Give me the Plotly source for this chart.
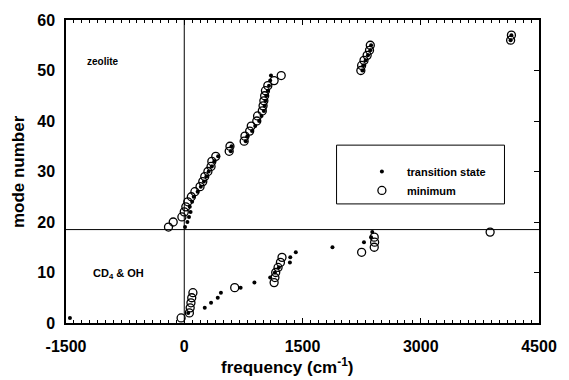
import plotly.graph_objects as go

modes = list(range(1, 58))

# frequencies (cm^-1) of the minimum structure, modes 1..57
min_freq = [-40, 65, 75, 85, 95, 110, 640, 1140, 1150, 1160, 1190, 1220, 1240,
            2250, 2410, 2415, 2410, 3880,
            -200, -140, -30, 0, 20, 45, 90, 135, 200, 235, 260, 300, 340, 350, 400,
            570, 580, 760, 770, 830, 850, 920, 930, 990, 1000, 1010, 1020, 1030,
            1060, 1140, 1230, 2240, 2250, 2280, 2320, 2350, 2360, 4140, 4150]

# frequencies (cm^-1) of the transition state, modes 1..57
ts_freq = [-1450, 50, 260, 340, 425, 465, 715, 890, 1090, 1150, 1200, 1340, 1345,
           1415, 1880, 2280, 2370, 2385,
           10, 40, 60, 80, 70, 100, 120, 170, 210, 250, 280, 310, 350, 380, 430,
           590, 600, 780, 800, 860, 900, 950, 980, 1010, 1020, 1030, 1040, 1060,
           1075, 1090, 1100, 2260, 2270, 2300, 2330, 2360, 2370, 4140, 4150]

x_ticks = [-1500, 0, 1500, 3000, 4500]
x_tick_labels = ["-1500", "0", "1500", "3000", "4500"]
y_ticks = [0, 10, 20, 30, 40, 50, 60]
split_mode = 18.5

FONT = "Liberation Sans"

fig = go.Figure()
fig.add_trace(go.Scatter(
    x=ts_freq, y=modes, mode="markers", name="transition state",
    marker=dict(symbol="circle", size=4, color="black"),
))
fig.add_trace(go.Scatter(
    x=min_freq, y=modes, mode="markers", name="minimum",
    marker=dict(symbol="circle-open", size=8, color="black", line=dict(width=1.3)),
))
# dummy trace for right / top axis ticks
fig.add_trace(go.Scatter(x=[None], y=[None], xaxis="x2", yaxis="y2",
                         showlegend=False, hoverinfo="skip"))

fig.update_layout(
    width=569, height=380,
    margin=dict(l=66, r=24, t=20, b=57),
    plot_bgcolor="white", paper_bgcolor="white",
    font=dict(family=FONT, color="black"),
    showlegend=True,
    legend=dict(x=0.615, y=0.548, xanchor="left", yanchor="top",
                bgcolor="rgba(0,0,0,0)", borderwidth=0,
                font=dict(size=11, family=FONT, weight="bold"),
                itemwidth=40, tracegroupgap=0),
    xaxis=dict(range=[-1500, 4500], tickvals=x_ticks, ticktext=x_tick_labels,
               ticks="inside", ticklen=5, tickwidth=1, tickcolor="black",
               minor=dict(dtick=100, ticks="inside", ticklen=3, tickcolor="black"),
               showline=True, linecolor="black", linewidth=1.5, mirror=True,
               showgrid=False, zeroline=False,
               tickfont=dict(size=16, family=FONT, weight="bold"),
               ticklabelstandoff=8),
    xaxis2=dict(range=[-1500, 4500], overlaying="x", side="top", tickvals=x_ticks,
                ticks="inside", ticklen=5, tickcolor="black",
                minor=dict(dtick=100, ticks="inside", ticklen=3, tickcolor="black"),
                showticklabels=False, showgrid=False, zeroline=False, showline=False),
    yaxis=dict(range=[0, 60], tickvals=y_ticks, ticks="",
               showline=True, linecolor="black", linewidth=1.5, mirror=True,
               showgrid=False, zeroline=False,
               tickfont=dict(size=16, family=FONT, weight="bold"),
               ticklabelstandoff=6),
    yaxis2=dict(range=[0, 60], overlaying="y", side="right", tickvals=y_ticks,
                ticks="inside", ticklen=5, tickcolor="black",
                showticklabels=False, showgrid=False, zeroline=False, showline=False),
)

# reference lines: zero frequency and split between CD4&OH and zeolite modes
fig.add_shape(type="line", xref="x", yref="y", x0=0, x1=0, y0=0, y1=60,
              line=dict(color="black", width=1))
fig.add_shape(type="line", xref="x", yref="y", x0=-1500, x1=4500,
              y0=split_mode, y1=split_mode, line=dict(color="black", width=1))

# legend box
fig.add_shape(type="rect", xref="paper", yref="paper", x0=0.572, x1=0.927,
              y0=0.393, y1=0.587, line=dict(color="black", width=1), fillcolor="rgba(0,0,0,0)")

fig.add_annotation(x=-1260, y=51.7, xref="x", yref="y", text="zeolite", showarrow=False,
                   xanchor="left", font=dict(size=10, family=FONT, weight="bold"))
fig.add_annotation(x=-1180, y=9.8, xref="x", yref="y", text="CD<sub>4</sub> & OH",
                   showarrow=False, xanchor="left",
                   font=dict(size=11, family=FONT, weight="bold"))

# axis titles
fig.add_annotation(x=(290 - 66) / 479, y=-0.143, xref="paper", yref="paper",
                   text="frequency (cm<sup>-1</sup>)", showarrow=False,
                   xanchor="center", yanchor="middle",
                   font=dict(size=17, family=FONT, weight="bold"))
fig.add_annotation(x=-(66 - 18) / 479, y=0.5, xref="paper", yref="paper",
                   text="mode number", showarrow=False, textangle=-90,
                   xanchor="center", yanchor="middle",
                   font=dict(size=17, family=FONT, weight="bold"))

fig.write_html("out.html")
